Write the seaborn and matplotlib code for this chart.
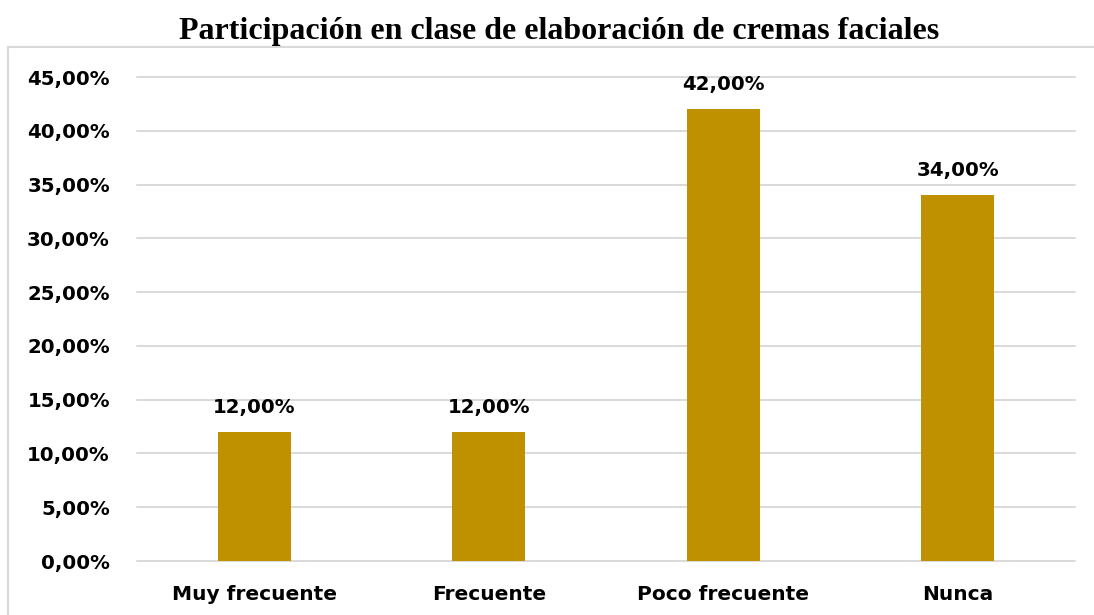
import matplotlib
matplotlib.use("Agg")
import matplotlib.pyplot as plt
import seaborn as sns
import pandas as pd
from matplotlib.patches import Rectangle

# Data
categorias = ["Muy frecuente", "Frecuente", "Poco frecuente", "Nunca"]
porcentajes = [12.0, 12.0, 42.0, 34.0]
titulo = "Participación en clase de elaboración de cremas faciales"

df = pd.DataFrame({"categoria": categorias, "porcentaje": porcentajes})

sns.set_style("white")
plt.rcParams["font.family"] = ["DejaVu Sans"]
plt.rcParams["text.color"] = "black"
plt.rcParams["xtick.color"] = "black"
plt.rcParams["ytick.color"] = "black"

W, H = 1094, 615
fig = plt.figure(figsize=(W / 100, H / 100), dpi=100)
ax = fig.add_axes([137 / W, 1 - 561 / H, (1075 - 137) / W, (561 - 77) / H])

sns.barplot(data=df, x="categoria", y="porcentaje", color="#BF9000",
            width=0.31, saturation=1, linewidth=0, ax=ax, zorder=3)

ax.set_ylim(0, 45)
ax.set_yticks(range(0, 50, 5))
ax.set_yticklabels([f"{t:.2f}%".replace(".", ",") for t in range(0, 50, 5)],
                   fontsize=14.2, fontweight="bold")
ax.set_xticks(range(len(categorias)))
ax.set_xticklabels(categorias, fontsize=14.5, fontweight="bold")
ax.tick_params(axis="x", length=0, pad=17)
ax.tick_params(axis="y", length=0, pad=19.5)
ax.set_xlabel("")
ax.set_ylabel("")
ax.grid(axis="y", color="#d9d9d9", linewidth=1.4, zorder=0)
for gl in ax.get_ygridlines():
    gl.set_clip_on(False)
for s in ax.spines.values():
    s.set_visible(False)

labels = [f"{v:.2f}%".replace(".", ",") for v in porcentajes]
ax.bar_label(ax.containers[0], labels=labels, padding=11,
             fontsize=14.2, fontweight="bold")

# chart area border
fig.patches.append(Rectangle((8 / W, -0.1), 1.2, 1 - 47 / H + 0.1,
                             transform=fig.transFigure, fill=False,
                             edgecolor="#d9d9d9", linewidth=1.5))

fig.text(559 / W, 1 - 31 / H, titulo, ha="center", va="center",
         fontsize=23, fontweight="bold", family="Liberation Serif")

fig.savefig("out.png", dpi=100)
